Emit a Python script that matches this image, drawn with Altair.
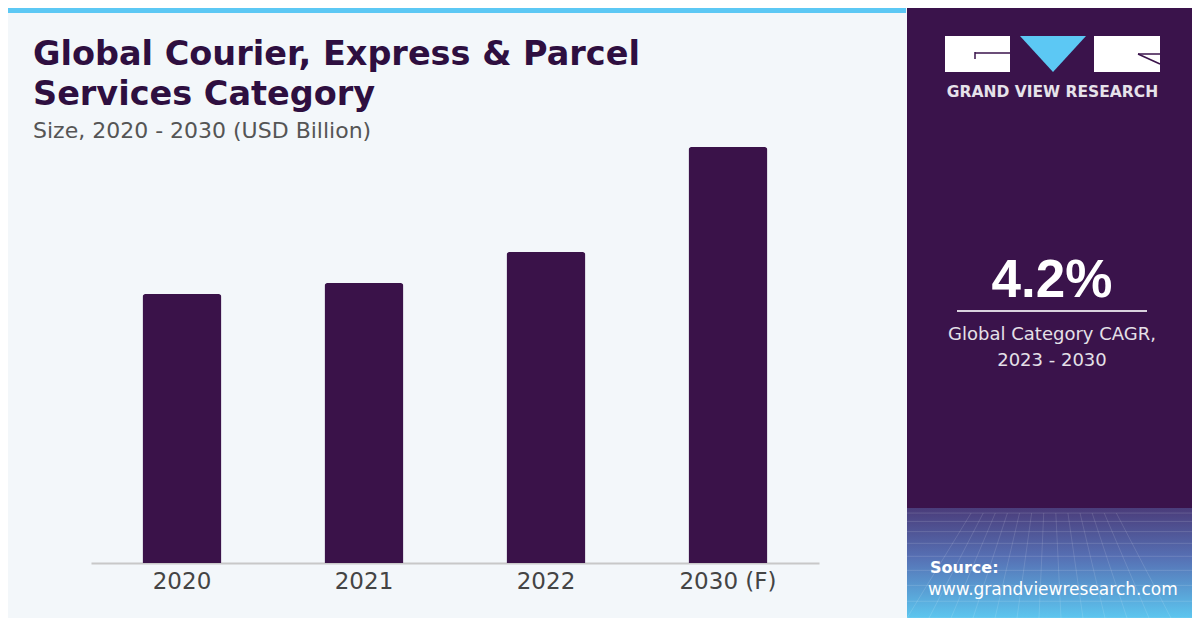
import altair as alt
import pandas as pd

# ---- data (USD Billion) ----
years = ["2020", "2021", "2022", "2030 (F)"]
market_size = [269, 280, 311, 416]

title_line1 = "Global Courier, Express & Parcel"
title_line2 = "Services Category"
subtitle = "Size, 2020 - 2030 (USD Billion)"
cagr_value = "4.2%"
cagr_line1 = "Global Category CAGR,"
cagr_line2 = "2023 - 2030"
brand = "GRAND VIEW RESEARCH"
source_label = "Source:"
source_url = "www.grandviewresearch.com"

PURPLE = "#3a1249"
PANEL = "#3a134b"
BG = "#f3f7fa"

df = pd.DataFrame({"year": years, "size": market_size})
one = pd.DataFrame({"k": [0]})


def rect(x, x2, y, y2, color, opacity=1.0):
    return alt.Chart(one).mark_rect(color=color, opacity=opacity).encode(
        x=alt.value(x), x2=alt.value(x2), y=alt.value(y), y2=alt.value(y2)
    )


def rule(x, x2, y, y2, color, width=1.5, opacity=1.0):
    return alt.Chart(one).mark_rule(color=color, strokeWidth=width, opacity=opacity).encode(
        x=alt.value(x), x2=alt.value(x2), y=alt.value(y), y2=alt.value(y2)
    )


def text(x, y, s, size, color, weight="normal", font="DejaVu Sans", align="left"):
    return alt.Chart(one).mark_text(
        align=align, baseline="alphabetic", font=font, fontSize=size,
        fontWeight=weight, color=color
    ).encode(x=alt.value(x), y=alt.value(y), text=alt.value(s))


# backgrounds
top_bar = rect(-83, 815, -55, -50, "#5cc8f4")
right_panel = rect(816, 1101, -63, 555, PANEL)
gradient_panel = alt.Chart(one).mark_rect(
    color=alt.LinearGradient(
        gradient="linear",
        stops=[
            alt.GradientStop(color="#4a3c7a", offset=0),
            alt.GradientStop(color="#5670b4", offset=0.45),
            alt.GradientStop(color="#5cc6ef", offset=1),
        ],
        x1=0, x2=0, y1=0, y2=1,
    )
).encode(x=alt.value(816), x2=alt.value(1101), y=alt.value(445), y2=alt.value(555))

# decorative perspective grid on the gradient
grid_layers = []
n_h = 9
for i in range(1, n_h + 1):
    yy = 445 + 110 * (i / n_h) ** 1.4
    grid_layers.append(rule(816, 1101, yy, yy, "white", 0.7, 0.2))
for j in range(-6, 20):
    xb = 816 + j * 22
    xt = 816 + 285 / 2 + (xb - 816 - 285 / 2) * 0.55
    if 816 <= xb <= 1101 and 816 <= xt <= 1101:
        grid_layers.append(rule(xt, xb, 450, 555, "white", 0.7, 0.18))

# bars
bars = alt.Chart(df).mark_bar(
    color=PURPLE, cornerRadiusTopLeft=3, cornerRadiusTopRight=3
).encode(
    x=alt.X(
        "year:N", sort=years,
        scale=alt.Scale(paddingInner=0.566, paddingOuter=0.283),
        axis=alt.Axis(
            title=None, labelAngle=0, ticks=False, labelFontSize=23,
            labelFont="DejaVu Sans", labelColor="#444444", labelPadding=7,
            domainColor="#c8c8c8", domainWidth=2, grid=False,
        ),
    ),
    y=alt.Y("size:Q", scale=alt.Scale(domain=[0, 500], nice=False), axis=None),
)

# titles
t1 = text(-58, 2, title_line1, 33.5, "#2e0f40", weight="bold")
t2 = text(-58, 42, title_line2, 33.5, "#2e0f40", weight="bold")
t3 = text(-58, 75, subtitle, 22, "#555555")

# logo
logo_left = rect(854, 919, -27, 9, "white")
logo_right = rect(1003, 1069, -27, 9, "white")
logo_tri = alt.Chart(one).mark_point(
    shape="M -1 -0.545 L 1 -0.545 L 0 0.545 Z", size=4356, filled=True,
    color="#5cc8f4", opacity=1, strokeWidth=0
).encode(x=alt.value(962), y=alt.value(-9))
g1 = rule(884, 919, -10, -10, PANEL, 1.5)
g2 = rule(884, 884, -11, -4, PANEL, 1.5)
r1 = rule(1047, 1069, -9, -9, PANEL, 1.5)
r2 = rule(1047, 1069, -9, 1, PANEL, 1.5)
brand_t = text(961.5, 34, brand, 15.5, "#e6e2ea", weight="bold", align="center")

# CAGR block
cagr_t = text(961, 234, cagr_value, 53, "white", weight="bold", font="Liberation Sans", align="center")
cagr_rule = rule(866, 1056, 248, 248, "#d9d2de", 2)
cagr_l1 = text(961, 277, cagr_line1, 18, "#e4e0e8", align="center")
cagr_l2 = text(961, 303, cagr_line2, 18, "#e4e0e8", align="center")

# source
src1 = text(839, 510, source_label, 16, "white", weight="bold")
src2 = text(837, 532, source_url, 17, "white")

chart = alt.layer(
    top_bar, right_panel, gradient_panel, *grid_layers, bars,
    t1, t2, t3,
    logo_left, logo_right, logo_tri, g1, g2, r1, r2, brand_t,
    cagr_t, cagr_rule, cagr_l1, cagr_l2,
    src1, src2,
).properties(
    width=728, height=500,
    padding={"left": 83, "top": 55, "right": 373, "bottom": 55},
    autosize=alt.AutoSizeParams(type="none"),
    background=BG,
).configure_view(strokeWidth=0, stroke=None)

chart.save("out.html", embed_options={"renderer": "svg", "actions": False})
